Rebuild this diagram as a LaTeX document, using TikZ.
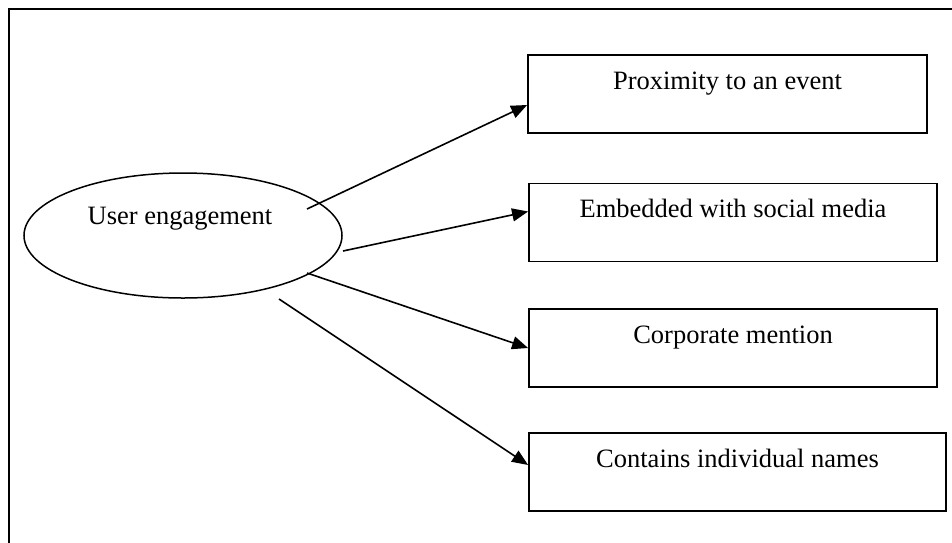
\documentclass[tikz,border=0pt]{standalone}
\usepackage{fontspec}
\setmainfont{Liberation Serif}
\usetikzlibrary{shapes.geometric,arrows.meta}
\begin{document}
\begin{tikzpicture}[x=1pt,y=-1pt,
  box/.style={draw,line width=1.8pt,minimum width=#1,minimum height=78pt,inner sep=0pt},
  oval/.style={draw,ellipse,line width=1.5pt,minimum width=318pt,minimum height=125pt,inner sep=0pt},
  txt/.style={font=\fontsize{26.5}{30}\selectfont,inner sep=0pt,anchor=base},
  conn/.style={line width=1.6pt,-{Triangle[length=16pt,width=13pt]}}]
\useasboundingbox (0,0) rectangle (952,542);
\clip (0,0) rectangle (952,542);
\draw[line width=1.8pt] (9,9) rectangle (970,560);
\node[oval] (ue) at (183,235.5) {};
\node[txt] (uet) at (180,224) {User engagement};
\node[box=399pt] (b1) at (727.5,94) {};
\node[box=408pt] (b2) at (733,222.5) {};
\node[box=408pt] (b3) at (733,348) {};
\node[box=417pt] (b4) at (737.5,472) {};
\node[txt] (t1) at ([yshift=-35pt]b1.north) {Proximity to an event};
\node[txt] (t2) at ([yshift=-35pt]b2.north) {Embedded with social media};
\node[txt] (t3) at ([yshift=-35pt]b3.north) {Corporate mention};
\node[txt] (t4) at ([yshift=-35pt]b4.north) {Contains individual names};
\coordinate (s1) at ([shift={(124,-26.5)}]ue.center);
\coordinate (s2) at ([shift={(160,15.5)}]ue.center);
\coordinate (s3) at ([shift={(124,37.5)}]ue.center);
\coordinate (s4) at ([shift={(96,63.5)}]ue.center);
\draw[conn] (s1) -- ([yshift=-11pt]b1.west);
\draw[conn] (s2) -- ([yshift=11pt]b2.west);
\draw[conn] (s3) -- (b3.west);
\draw[conn] (s4) -- ([yshift=7pt]b4.west);
\end{tikzpicture}
\end{document}
